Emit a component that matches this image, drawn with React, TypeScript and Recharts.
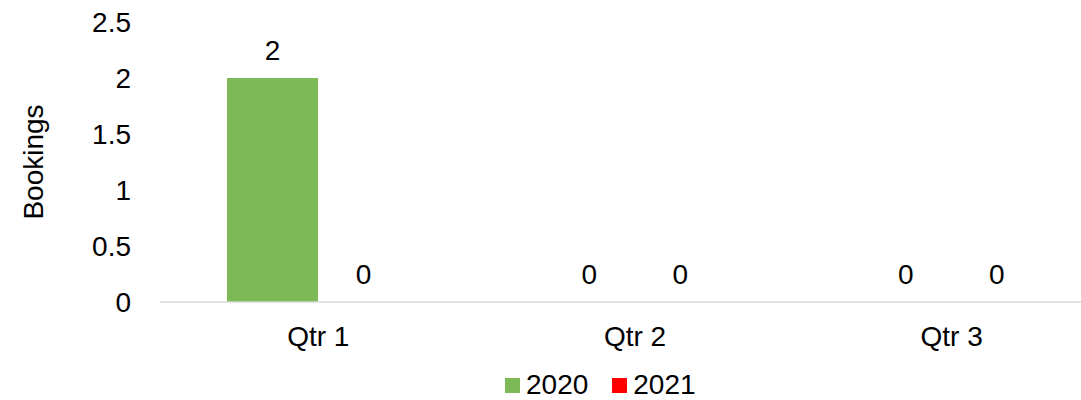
import React from 'react'
import { BarChart, Bar, XAxis, YAxis, Legend, LabelList, Label } from 'recharts'

const quarters = ['Qtr 1', 'Qtr 2', 'Qtr 3']
const bookings2020 = [2, 0, 0]
const bookings2021 = [0, 0, 0]
const yTicks = [0, 0.5, 1, 1.5, 2, 2.5]

const data = quarters.map((q, i) => ({ quarter: q, y2020: bookings2020[i], y2021: bookings2021[i] }))

const font = '"Liberation Sans", Arial, sans-serif'
const fs = 28

function LegendContent() {
    const items = [
        { name: '2020', color: '#7EB957' },
        { name: '2021', color: '#FF0000' },
    ]
    return (
        <div style={{ display: 'flex', alignItems: 'center', fontFamily: font, fontSize: fs, color: '#000', lineHeight: '28px' }}>
            {items.map((it) => (
                <div key={it.name} style={{ display: 'flex', alignItems: 'center', marginRight: 24 }}>
                    <span style={{ display: 'inline-block', width: 15, height: 15, background: it.color, marginRight: 6 }} />
                    <span>{it.name}</span>
                </div>
            ))}
        </div>
    )
}

export default function App() {
    return (
        <div style={{ position: 'absolute', left: 0, top: 0, width: 1081, height: 400, overflow: 'hidden', background: '#fff' }}>
            <BarChart width={1110} height={400} data={data} barGap={0}
                margin={{ top: 22, right: 0, left: 0, bottom: 20 }}
                style={{ fontFamily: font }}>
                <XAxis dataKey="quarter" axisLine={{ stroke: '#d9d9d9', strokeWidth: 1.5 }} tickLine={false}
                    tickSize={0} tickMargin={24} height={50}
                    tick={{ fill: '#000', fontSize: fs, fontFamily: font }} />
                <YAxis domain={[0, 2.5]} ticks={yTicks} axisLine={false} tickLine={false}
                    tickSize={0} tickMargin={29} width={160} interval={0}
                    tick={{ fill: '#000', fontSize: fs, fontFamily: font }}>
                    <Label value="Bookings" angle={-90} position="insideLeft" offset={33}
                        style={{ textAnchor: 'middle', fill: '#000', fontSize: fs, fontFamily: font }} />
                </YAxis>
                <Legend verticalAlign="bottom" content={<LegendContent />}
                    wrapperStyle={{ left: 505, width: 'auto', height: 28, bottom: 1 }} />
                <Bar dataKey="y2020" name="2020" fill="#7EB957" barSize={91} minPointSize={0.01} isAnimationActive={false}>
                    <LabelList dataKey="y2020" position="top" offset={18} fill="#000" fontSize={fs} fontFamily={font} />
                </Bar>
                <Bar dataKey="y2021" name="2021" fill="#FF0000" barSize={91} minPointSize={0.01} isAnimationActive={false}>
                    <LabelList dataKey="y2021" position="top" offset={18} fill="#000" fontSize={fs} fontFamily={font} />
                </Bar>
            </BarChart>
        </div>
    )
}
